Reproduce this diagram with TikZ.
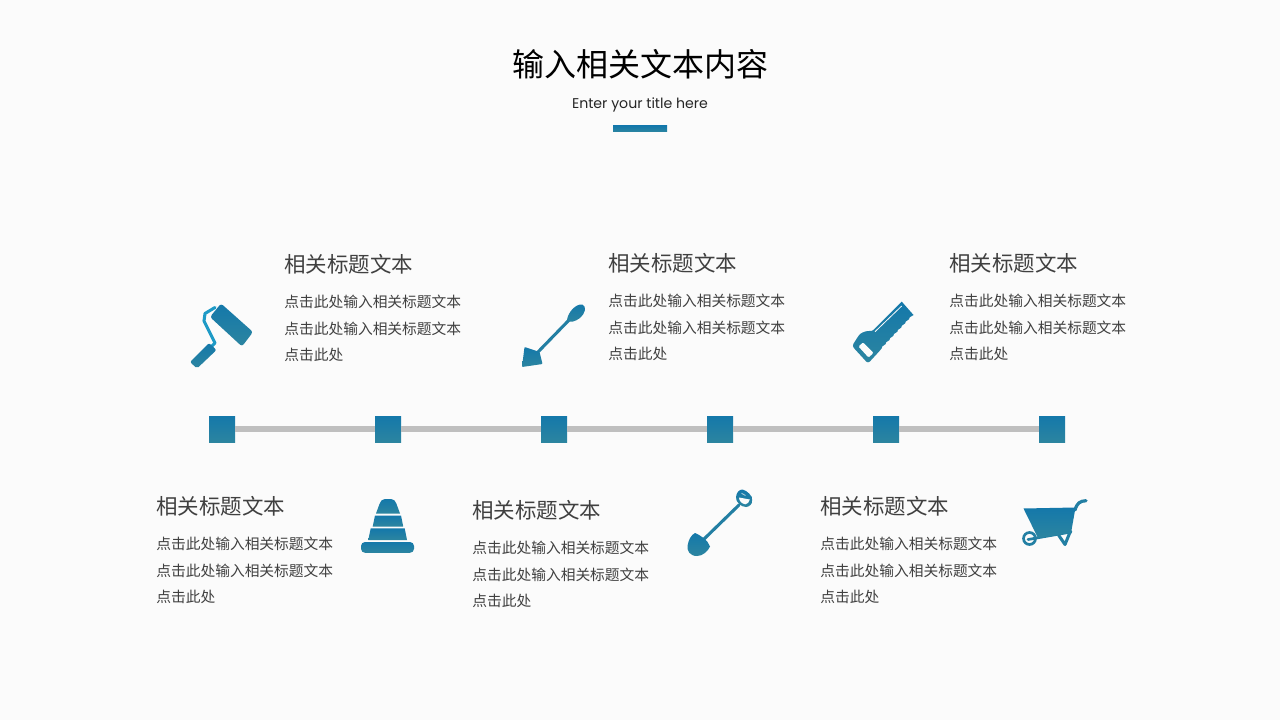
\documentclass[tikz,border=0pt]{standalone}
\usepackage{fontspec}
\setmainfont{Poppins}
\newfontfamily\cjk{Noto Sans CJK SC}
\definecolor{pagebg}{HTML}{FBFBFB}
\definecolor{tealtop}{HTML}{1478AA}
\definecolor{tealbot}{HTML}{2C85A0}
\definecolor{tealmid}{HTML}{237FA3}
\definecolor{wire}{HTML}{1E9AC6}
\definecolor{railgray}{HTML}{BFBFBF}
\definecolor{bodytext}{HTML}{404040}
\tikzset{
  grad/.style={top color=tealtop,bottom color=tealbot,draw=none},
  marker/.style={grad,rectangle,minimum size=19.5pt,inner sep=0pt},
  rail/.style={draw=railgray,line width=4.5pt},
  head/.style={anchor=west,inner sep=0pt,text=bodytext,font=\cjk\fontsize{16.1}{16}\selectfont},
  para/.style={anchor=west,inner sep=0pt,text=bodytext,font=\cjk\fontsize{11.06}{11}\selectfont},
  stroke/.style={draw=tealmid,line cap=round,line join=round},
}
\begin{document}
\begin{tikzpicture}[x=0.75pt,y=-0.75pt]
\useasboundingbox (0,0) rectangle (1280,720);
\fill[pagebg] (0,0) rectangle (1280,720);
% title
\node[inner sep=0pt,font=\cjk\fontsize{24}{24}\selectfont,text=black] (title) at (640,64) {输入相关文本内容};
\node[inner sep=0pt,font=\fontsize{10.6}{11}\selectfont,text=black!85] (subtitle) at (640,104.5) {Enter your title here};
\node[grad,rectangle,minimum width=40.5pt,minimum height=4.5pt,inner sep=0pt] (bar) at (640,129) {};
% timeline
\foreach \n/\x in {1/222,2/388,3/554,4/720,5/886,6/1052}
  \node[marker] (s\n) at (\x,429) {};
\draw[rail] (s1) -- (s2);
\draw[rail] (s2) -- (s3);
\draw[rail] (s3) -- (s4);
\draw[rail] (s4) -- (s5);
\draw[rail] (s5) -- (s6);
% text blocks
\foreach \k/\x/\ya/\yb/\yc/\yd in {a/284/264/302/329/355,b/608/263/301/328/354,c/949/263/301/328/354,d/156/506/544/571/597,e/472/510/548/575/601,f/820/506/544/571/597}{
  \node[head] (h\k) at (\x,\ya) {相关标题文本};
  \node[para] (p\k1) at (\x,\yb) {点击此处输入相关标题文本};
  \node[para] (p\k2) at (\x,\yc) {点击此处输入相关标题文本};
  \node[para] (p\k3) at (\x,\yd) {点击此处};
}
% paint roller
\draw[draw=wire,line width=2.3pt,line join=round,line cap=round] (215,307.5) -- (205,313.5) -- (204,321) -- (215,343) -- (211,347);
\path[grad,rounded corners=2pt] (221,303.5) -- (253,332) -- (242,346.5) -- (210,317) -- cycle;
\path[grad,rounded corners=1.5pt] (209,343) -- (216.5,350) -- (197,368.5) -- (190,362) -- cycle;
% spade
\draw[stroke,line width=2.3pt] (537,353) -- (571,318);
\path[grad,rounded corners=0.6pt] (524.5,347) -- (539.5,352) -- (542.5,364) -- (522,367) -- cycle;
\path[grad] (567,320) .. controls (568,312) and (576,303.5) .. (582.5,304.5) .. controls (587,306.5) and (585,314) .. (580,318) .. controls (575,321.5) and (570,323.5) .. (567,320) -- cycle;
% saw
\path[grad] (871.7,331.7) -- (901.7,301.7) -- (902.5,302.5) -- (913.5,315)
  -- (909.6,317.4) -- (909.1,319.2) -- (905.7,321.6) -- (905.2,323.3) -- (901.8,325.7) -- (901.3,327.5)
  -- (897.9,329.9) -- (897.4,331.7) -- (893.9,334) -- (893.4,335.8) -- (890,338.2) -- (889.5,340)
  -- (886.1,342.3) -- (885.6,344.1) -- (882.2,346.5) -- (881.7,348.3)
  [rounded corners=2pt] -- (880,350.5) -- (868,363.5) -- (852,346) -- (860,333.5) -- (868,330.5) -- cycle;
\draw[draw=pagebg,line width=0.6pt] (875,331.7) -- (901.7,306);
\path[fill=pagebg,rounded corners=0.8pt] (863,342.5) -- (873.5,353) -- (868.5,357.5) -- (858.5,346.5) -- cycle;
% cone
\path[grad] (376,513.5) -- (379.5,504) .. controls (381,500.5) and (382.5,499) .. (385,499) -- (391,499) .. controls (393.5,499) and (395,500.5) .. (396.5,504) -- (400,513.5) -- cycle;
\path[grad] (375,515.5) -- (401,515.5) -- (403.2,526.5) -- (372.7,526.5) -- cycle;
\path[grad] (370.7,528.3) -- (404.7,528.3) -- (407,540) -- (368.3,540) -- cycle;
\path[grad,rounded corners=3pt] (361,542) rectangle (414,552.8);
% shovel
\draw[stroke,line width=2.3pt] (702,541) -- (739,505);
\path[grad] (695,533) .. controls (700,535) and (708,540) .. (710,546.5) .. controls (708,551) and (703,556) .. (697,556) .. controls (690,556) and (686.5,551) .. (687.7,545) .. controls (688.5,540) and (691,535) .. (695,533) -- cycle;
\path[grad] (736,497) .. controls (736.5,492.5) and (739,489.5) .. (742.5,489.5) .. controls (747,490.5) and (752.5,496) .. (752.8,500) .. controls (752.5,503.5) and (749.5,507) .. (746,507) .. controls (741,507) and (735.5,502) .. (736,497) -- cycle;
\path[fill=pagebg] (739,497.5) -- (749.8,499.5) .. controls (749,502) and (747.5,504.3) .. (745.5,504.3) .. controls (742,504) and (739,501) .. (739,497.5) -- cycle;
\draw[draw=pagebg!60!tealmid,line width=0.7pt] (741.5,493.3) -- (745.5,495.5);
% wheelbarrow
\draw[stroke,line width=2.4pt] (1075,510) .. controls (1077,503) and (1080,501) .. (1086,500.7);
\draw[stroke,line width=2pt] (1028,539.5) -- (1071,532);
\draw[stroke,line width=2.3pt] (1058.5,535) -- (1065,544.5) -- (1070.5,531);
\draw[stroke,line width=2pt] (1029.5,538.5) circle (6);
\path[grad] (1023.5,508.5) -- (1075.5,507.5) -- (1071,533) -- (1038,538) -- cycle;
\end{tikzpicture}
\end{document}
